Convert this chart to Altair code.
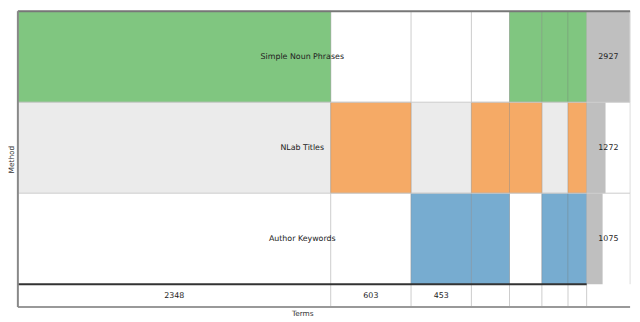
import altair as alt
import pandas as pd

# ---- data ----
methods = ["Simple Noun Phrases", "NLab Titles", "Author Keywords"]
method_colors = ["#80c680", "#f5aa66", "#77acd0"]
row_fills = ["#ffffff", "#ebebeb", "#ffffff"]
method_totals = [2927, 1272, 1075]

# intersection columns (left to right): term counts and which methods they contain
col_counts = [2348, 603, 453, 286, 243, 196, 140]
col_members = [
    [1, 0, 0],
    [0, 1, 0],
    [0, 0, 1],
    [0, 1, 1],
    [1, 1, 0],
    [1, 0, 1],
    [1, 1, 1],
]
labelled_cols = [True, True, True, False, False, False, False]

# ---- layout helpers (in scale units) ----
GRID_END = sum(col_counts)
TOT_W = 326            # width of the totals column, in x units
ROW_H = 4              # height of a method row, in y units (count row = 1)
Y_TOP = ROW_H * len(methods) + 1
W, H = 577, 300

starts = []
acc = 0
for c in col_counts:
    starts.append(acc)
    acc += c

rows = []
for i, m in enumerate(methods):
    y1 = Y_TOP - ROW_H * i
    y0 = y1 - ROW_H
    rows.append(dict(method=m, y0=y0, y1=y1, ymid=(y0 + y1) / 2, fill=row_fills[i],
                     x0=0, x1=GRID_END, xmid=GRID_END / 2,
                     t0=GRID_END, t1=GRID_END + TOT_W * method_totals[i] / max(method_totals),
                     tmid=GRID_END + TOT_W / 2, total=str(method_totals[i]),
                     tend=GRID_END + TOT_W))
rows_df = pd.DataFrame(rows)

cells = []
for j, (s, c, mem) in enumerate(zip(starts, col_counts, col_members)):
    for i, flag in enumerate(mem):
        if flag:
            y1 = Y_TOP - ROW_H * i
            cells.append(dict(x0=s, x1=s + c, y0=y1 - ROW_H, y1=y1, color=method_colors[i]))
cells_df = pd.DataFrame(cells)

cols_df = pd.DataFrame(dict(
    xmid=[s + c / 2 for s, c in zip(starts, col_counts)],
    label=[str(c) if show else "" for c, show in zip(col_counts, labelled_cols)],
    y=[0.5] * len(col_counts),
))

vlines_df = pd.DataFrame(dict(x=starts + [GRID_END], y0=0, y1=Y_TOP))
hlines_df = pd.DataFrame(dict(y=[Y_TOP - ROW_H * i for i in range(1, len(methods))],
                              x0=0, x1=GRID_END + TOT_W))

xs = alt.Scale(domain=[0, GRID_END], nice=False, zero=False)
ys = alt.Scale(domain=[0, Y_TOP], nice=False, zero=False)
xaxis = alt.Axis(labels=False, ticks=False, domain=False, grid=False, title="Terms",
                 titleFont="DejaVu Sans", titleFontSize=7.5, titleFontWeight="normal",
                 titleColor="#333", titlePadding=3)
yaxis = alt.Axis(labels=False, ticks=False, domain=False, grid=False, title="Method",
                 titleFont="DejaVu Sans", titleFontSize=7.5, titleFontWeight="normal",
                 titleColor="#333", titlePadding=2)

bg = alt.Chart(rows_df).mark_rect().encode(
    x=alt.X("x0:Q", scale=xs, axis=xaxis), x2="x1:Q",
    y=alt.Y("y0:Q", scale=ys, axis=yaxis), y2="y1:Q",
    fill=alt.Fill("fill:N", scale=None),
)

vlines = alt.Chart(vlines_df).mark_rule(color="#cccccc", strokeWidth=1).encode(
    x="x:Q", y="y0:Q", y2="y1:Q",
)

cell_layer = alt.Chart(cells_df).mark_rect(
    stroke="#777777", strokeOpacity=0.25, strokeWidth=1).encode(
    x="x0:Q", x2="x1:Q", y="y0:Q", y2="y1:Q",
    fill=alt.Fill("color:N", scale=None),
)

tot_bars = alt.Chart(rows_df).mark_rect(color="#bfbfbf").encode(
    x="t0:Q", x2="t1:Q", y="y0:Q", y2="y1:Q",
)

tot_edge = alt.Chart(rows_df).mark_rule(color="#dddddd", strokeWidth=1).encode(
    x="tend:Q", y="y0:Q", y2="y1:Q",
)
hlines = alt.Chart(hlines_df).mark_rule(color="#cccccc", strokeWidth=1).encode(
    y="y:Q", x="x0:Q", x2="x1:Q",
)

border_df = pd.DataFrame(dict(
    kind=["top", "sep", "bottom"],
    y=[Y_TOP, 1, 0],
    x0=[0, 0, 0],
    x1=[GRID_END + TOT_W, GRID_END, GRID_END + TOT_W],
    color=["#777777", "#333333", "#999999"],
))
borders = alt.Chart(border_df).mark_rule(strokeWidth=2).encode(
    y="y:Q", x="x0:Q", x2="x1:Q", color=alt.Color("color:N", scale=None),
)
left_border = alt.Chart(pd.DataFrame(dict(x=[0], y0=[0], y1=[Y_TOP]))).mark_rule(
    color="#888888", strokeWidth=2).encode(x="x:Q", y="y0:Q", y2="y1:Q")

txt = dict(font="DejaVu Sans", fontSize=8, color="#222222")
method_text = alt.Chart(rows_df).mark_text(**txt).encode(
    x="xmid:Q", y="ymid:Q", text="method:N")
total_text = alt.Chart(rows_df).mark_text(**txt).encode(
    x="tmid:Q", y="ymid:Q", text="total:N")
count_text = alt.Chart(cols_df).mark_text(**txt).encode(
    x="xmid:Q", y="y:Q", text="label:N")

chart = alt.layer(
    bg, vlines, cell_layer, tot_bars, tot_edge, hlines, borders, left_border,
    method_text, total_text, count_text,
).properties(width=W, height=H, padding=0).configure_view(stroke=None)

chart.save("out.html", embed_options={"renderer": "svg", "actions": False})
